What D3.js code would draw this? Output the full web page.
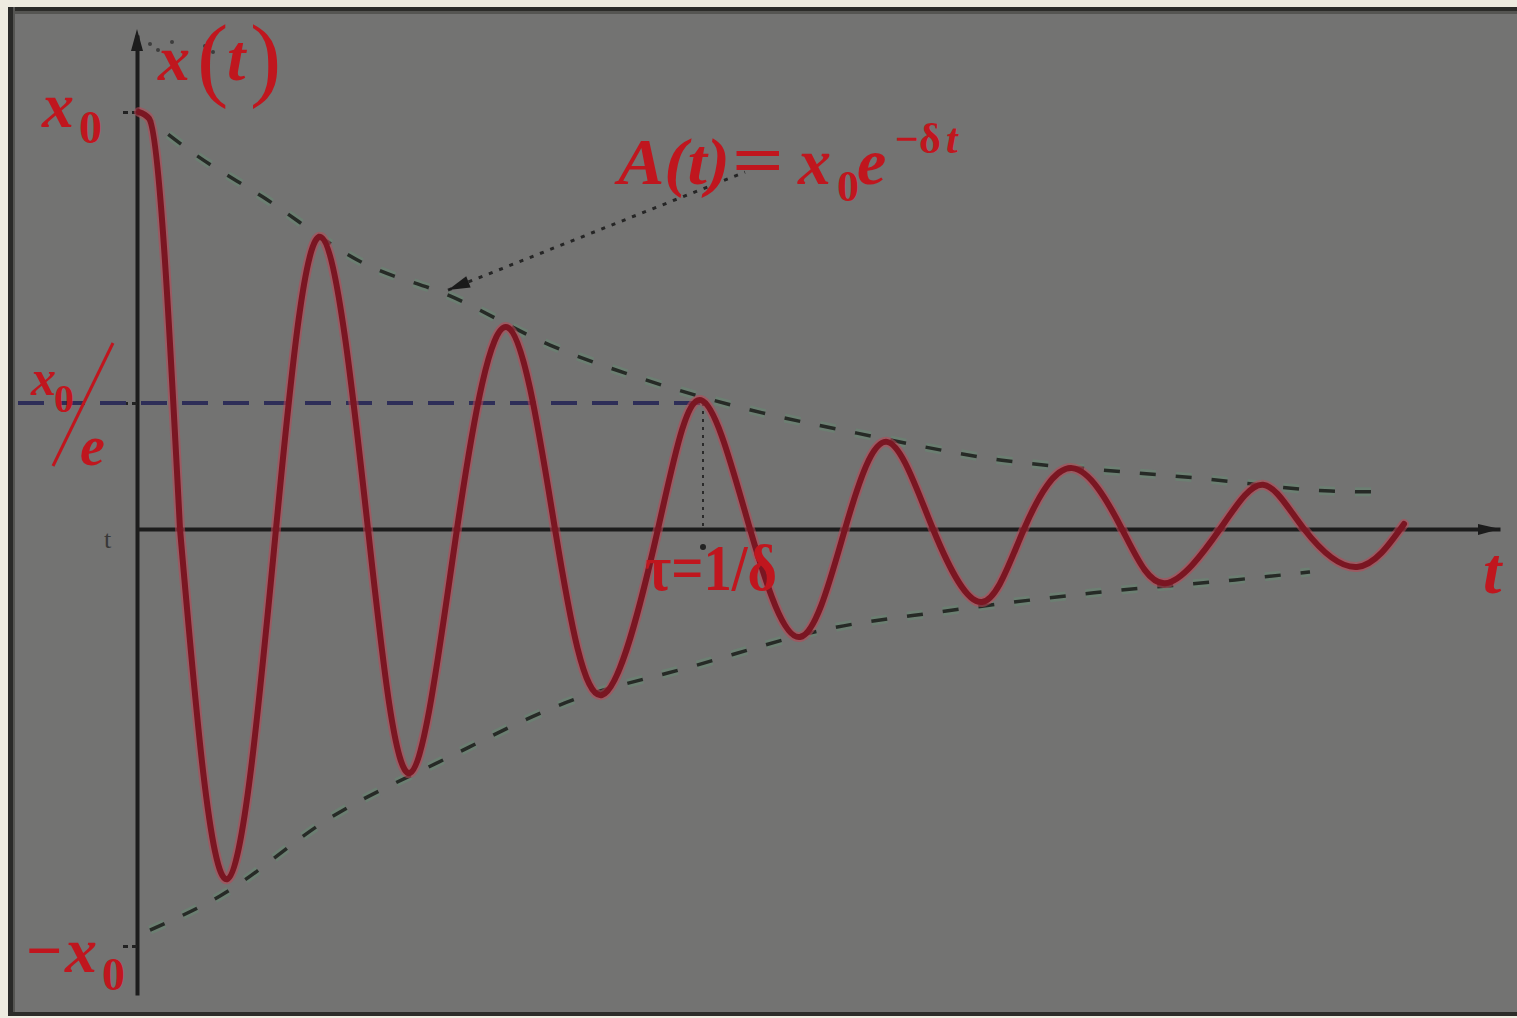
<!DOCTYPE html>
<html><head><meta charset="utf-8">
<script src="https://cdn.jsdelivr.net/npm/d3@7"></script>
<style>html,body{margin:0;padding:0;background:#eeebe0;overflow:hidden} svg{display:block}</style>
</head><body><svg id="c" width="1517" height="1018"></svg>
<script>
// ---- data (t in arbitrary time units, value = x/x0) ----
const startT = [0.02, 0.12, 0.43];            // rounded first crest down to first zero crossing
const startX = [1.00, 0.985, 0.00];
const curveT = [0.43, 0.90, 1.39, 1.84, 2.31, 2.73, 3.20, 3.70, 4.18, 4.65, 5.21, 5.64, 6.13, 6.63, 7.08, 7.50, 7.96, 8.45, 8.87, 9.35, 9.85, 10.28, 10.83, 11.26, 11.67, 12.20, 12.67];
const curveX = [0.00, -0.84, 0.00, 0.70, 0.00, -0.585, 0.00, 0.484, 0.00, -0.398, 0.00, 0.309, 0.00, -0.259, 0.00, 0.209, 0.00, -0.175, 0.00, 0.146, 0.00, -0.13, 0.00, 0.106, 0.00, -0.091, 0.012];
const upperT = [0.03, 0.56, 1.26, 2.26, 3.13, 4.13, 5.03, 6.06, 7.20, 8.65, 9.87, 10.61, 11.94, 12.38];
const upperX = [1.00, 0.902, 0.796, 0.638, 0.559, 0.441, 0.362, 0.290, 0.230, 0.165, 0.137, 0.122, 0.091, 0.089];
const lowerT = [0.13, 0.83, 1.93, 3.06, 4.36, 5.50, 6.96, 8.02, 9.57, 10.98, 11.73];
const lowerX = [-0.962, -0.880, -0.693, -0.554, -0.410, -0.333, -0.237, -0.199, -0.153, -0.122, -0.103];
const levelX0e = 0.302;     // x0/e reference line
const tau = 5.66;           // tau = 1/delta
const yTickValues = [-1, levelX0e, 1];
const leaderT = [3.11, 6.08];
const leaderX = [0.573, 0.856];

const svg = d3.select('#c');
const W = 1517, H = 1018;
const x = d3.scaleLinear().domain([0, 13.63]).range([137, 1500]);
const y = d3.scaleLinear().domain([-1.1175, 1.1847]).range([995, 35]);

// panel
svg.append('rect').attr('x', 8).attr('y', 7).attr('width', W - 8).attr('height', 1009).attr('fill', '#737372');
svg.append('rect').attr('x', 8).attr('y', 7).attr('width', W - 8).attr('height', 4).attr('fill', '#2c2c29');
svg.append('rect').attr('x', 8).attr('y', 11).attr('width', W - 8).attr('height', 3).attr('fill', '#555552');
svg.append('rect').attr('x', 8).attr('y', 7).attr('width', 5).attr('height', 1009).attr('fill', '#2a2a28');
svg.append('rect').attr('x', 13).attr('y', 7).attr('width', 2).attr('height', 1009).attr('fill', '#555552');
svg.append('rect').attr('x', 8).attr('y', 1012).attr('width', W - 8).attr('height', 4).attr('fill', '#2c2c29');

// axes
const xAxis = d3.axisBottom(x).tickValues([tau]).tickSize(0).tickFormat('').tickSizeOuter(0);
const gx = svg.append('g').attr('transform', `translate(0,${y(0)})`).call(xAxis);
gx.select('.domain').attr('stroke', '#1c1c1c').attr('stroke-width', 4);

const yAxis = d3.axisLeft(y).tickValues(yTickValues).tickSize(14).tickFormat('').tickSizeOuter(0);
const gy = svg.append('g').attr('transform', `translate(${x(0)},0)`).call(yAxis);
gy.select('.domain').attr('stroke', '#1c1c1c').attr('stroke-width', 4);
gy.selectAll('.tick line').attr('stroke', '#222').attr('stroke-width', 3).attr('stroke-dasharray', '5 4');

// arrowheads on axes
svg.append('path').attr('d', `M${x.range()[1]},${y(0)} l-22,-5 l0,11 z`).attr('fill', '#1c1c1c');
svg.append('path').attr('d', `M${x(0)},${y.range()[1] - 6} l-6,22 l12,0 z`).attr('fill', '#1c1c1c');

// small faint remnants of original labels
svg.append('text').attr('x', 104).attr('y', 548).attr('font-family', 'Liberation Serif').attr('font-size', 26).attr('fill', '#2a2a2a').attr('opacity', 0.8).text('t');
[[150, 44], [158, 50], [172, 42], [205, 46], [213, 52]].forEach(p =>
  svg.append('circle').attr('cx', p[0]).attr('cy', p[1]).attr('r', 2).attr('fill', '#262626').attr('opacity', 0.7));

// x0/e horizontal dashed line
svg.append('line').attr('x1', 18).attr('x2', x(tau)).attr('y1', y(levelX0e)).attr('y2', y(levelX0e))
  .attr('stroke', '#2e2e58').attr('stroke-width', 4).attr('stroke-dasharray', '26 15');

// tau vertical dotted line + marker
svg.append('line').attr('x1', x(tau)).attr('x2', x(tau)).attr('y1', y(levelX0e)).attr('y2', y(0))
  .attr('stroke', '#2a2a2a').attr('stroke-width', 2).attr('stroke-dasharray', '3 5');
svg.append('circle').attr('cx', x(tau)).attr('cy', y(0) + 18).attr('r', 3).attr('fill', '#222');

// envelopes
const envLine = d3.line().x(d => x(d.t)).y(d => y(d.v)).curve(d3.curveMonotoneX);
const upper = upperT.map((t, i) => ({t, v: upperX[i]}));
const lower = lowerT.map((t, i) => ({t, v: lowerX[i]}));
[upper, lower].forEach(data => {
  svg.append('path').attr('d', envLine(data)).attr('fill', 'none')
    .attr('stroke', 'rgba(95,150,115,0.35)').attr('stroke-width', 9).attr('stroke-dasharray', '16 20');
  svg.append('path').attr('d', envLine(data)).attr('fill', 'none')
    .attr('stroke', '#262a26').attr('stroke-width', 3.5).attr('stroke-dasharray', '16 20');
});

// leader line with arrow
const leader = leaderT.map((t, i) => ({t, v: leaderX[i]}));
const lline = d3.line().x(d => x(d.t)).y(d => y(d.v));
svg.append('path').attr('d', lline(leader)).attr('fill', 'none').attr('stroke', '#252525')
  .attr('stroke-width', 3).attr('stroke-dasharray', '4 7');
{
  const p0 = [x(leader[0].t), y(leader[0].v)], p1 = [x(leader[1].t), y(leader[1].v)];
  const ang = Math.atan2(p0[1] - p1[1], p0[0] - p1[0]) * 180 / Math.PI;
  svg.append('path').attr('d', 'M0,0 L-22,-6 L-22,6 Z').attr('fill', '#1a1a1a')
    .attr('transform', `translate(${p0[0]},${p0[1]}) rotate(${ang})`);
}

// damped oscillation: rounded first crest (monotone) + sinusoid-like natural spline
const startPts = startT.map((t, i) => ({t, v: startX[i]}));
const curve = curveT.map((t, i) => ({t, v: curveX[i]}));
const sLine = d3.line().x(d => x(d.t)).y(d => y(d.v)).curve(d3.curveMonotoneX);
const cLine = d3.line().x(d => x(d.t)).y(d => y(d.v)).curve(d3.curveNatural);
const dPath = sLine(startPts) + cLine(curve).replace(/^M/, 'L');
svg.append('path').attr('d', dPath).attr('fill', 'none').attr('stroke', 'rgba(190,70,85,0.55)')
  .attr('stroke-width', 10).attr('stroke-linejoin', 'round').attr('stroke-linecap', 'round');
svg.append('path').attr('d', dPath).attr('fill', 'none').attr('stroke', '#7a1622')
  .attr('stroke-width', 6).attr('stroke-linejoin', 'round').attr('stroke-linecap', 'round');

// ---- red labels ----
const RED = '#c0161e';
function txt(s, px, py, size, opts = {}) {
  const t = svg.append('text').attr('x', px).attr('y', py).attr('font-family', 'Liberation Serif, Times New Roman, serif')
    .attr('font-size', size).attr('fill', RED)
    .attr('font-weight', opts.weight || 'bold').attr('font-style', opts.style || 'normal').text(s);
  if (opts.len) t.attr('textLength', opts.len).attr('lengthAdjust', 'spacingAndGlyphs');
  return t;
}
// x(t)
txt('x', 158, 80, 64, {style: 'italic'});
txt('(', 197, 89, 94, {weight: 'normal'});
txt('t', 227, 80, 66, {style: 'italic'});
txt(')', 250, 89, 94, {weight: 'normal'});
// x0
txt('x', 42, 127, 64, {style: 'italic'});
txt('0', 79, 143, 46);
// x0/e
txt('x', 31, 395, 50, {style: 'italic'});
txt('0', 54, 412, 40);
svg.append('line').attr('x1', 113).attr('y1', 343).attr('x2', 53).attr('y2', 466).attr('stroke', RED).attr('stroke-width', 3);
txt('e', 80, 465, 56, {style: 'italic'});
// -x0
txt('\u2212', 26, 972, 64);
txt('x', 65, 972, 64, {style: 'italic'});
txt('0', 102, 990, 46);
// A(t) = x0 e^{-δt}
txt('A(t)', 618, 184, 66, {style: 'italic', len: 112});
txt('=', 732, 184, 70, {len: 52});
txt('x', 798, 184, 66, {style: 'italic'});
txt('0', 837, 201, 44);
txt('e', 857, 184, 66, {style: 'italic'});
txt('\u2212\u03b4', 895, 153, 42);
txt('t', 946, 153, 42, {style: 'italic'});
// tau
txt('\u03c4=1/\u03b4', 645, 590, 66, {len: 132});
// t axis label
txt('t', 1483, 593, 66, {style: 'italic'});
</script></body></html>
